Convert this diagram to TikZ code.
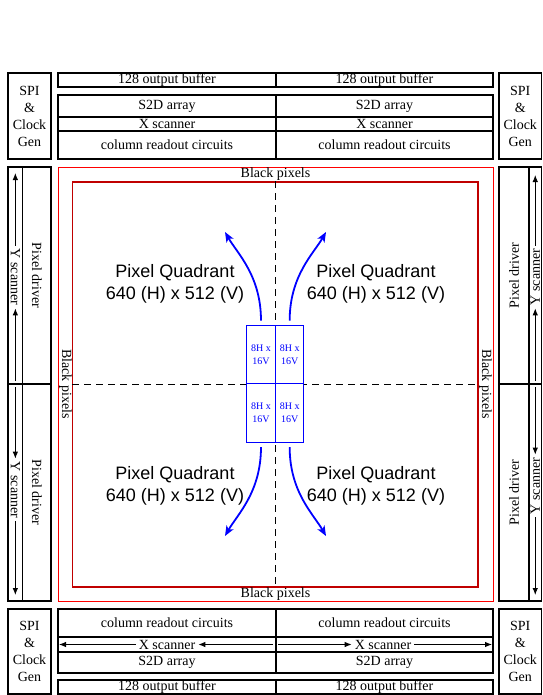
\documentclass[tikz,border=0pt]{standalone}
\usepackage{fontspec}
\setmainfont{Liberation Serif}
\newfontfamily\quadfont{Liberation Sans}
\usepackage{tikz}
\usetikzlibrary{positioning,arrows.meta,calc}
\definecolor{PixRed}{HTML}{FF0000}
\definecolor{EdgeRed}{HTML}{C00000}
\definecolor{CellBlue}{HTML}{0000FF}

\begin{document}
\begin{tikzpicture}[x=1pt,y=-1pt,
    blk/.style={draw, line width=1.1pt, inner sep=0pt, outer sep=0pt, font=\fontsize{14}{16}\selectfont},
    txt/.style={inner sep=3pt, font=\fontsize{14}{16}\selectfont},
    spi/.style={blk, minimum height=86pt, align=center, font=\fontsize{14}{17}\selectfont},
    scan/.style={-{Latex[length=7pt,width=5.5pt]}, line width=0.9pt},
    cell/.style={draw=CellBlue, fill=white, line width=1pt, text=CellBlue, minimum width=28.65pt,
      minimum height=58.15pt, inner sep=0pt, outer sep=0pt, align=center, font=\fontsize{10}{12.5}\selectfont},
    quad/.style={align=center, font=\quadfont\fontsize{18}{22}\selectfont},
    flow/.style={draw=CellBlue, line width=1.8pt, -{Stealth[length=10pt,width=8pt,inset=2.5pt]}}
  ]
  \useasboundingbox (0,0) rectangle (542,695);

  % top periphery
  \node[spi, minimum width=43pt] (spiTL) at (29.5,116) {SPI\\\&\\Clock\\Gen};
  \node[spi, minimum width=42.5pt] (spiTR) at (520.25,116) {SPI\\\&\\Clock\\Gen};
  \node[blk, minimum width=218pt, minimum height=14pt] (bufTL) at (167,80) {128 output buffer};
  \node[blk, minimum width=217pt, minimum height=14pt, right=0pt of bufTL] (bufTR) {128 output buffer};
  \node[blk, minimum width=218pt, minimum height=22pt] (s2dTL) at (167,106) {S2D array};
  \node[blk, minimum width=218pt, minimum height=14pt, below=0pt of s2dTL] (xscTL) {X scanner};
  \node[blk, minimum width=218pt, minimum height=28pt, below=0pt of xscTL] (colTL) {column readout circuits};
  \node[blk, minimum width=217pt, minimum height=22pt, right=0pt of s2dTL] (s2dTR) {S2D array};
  \node[blk, minimum width=217pt, minimum height=14pt, right=0pt of xscTL] (xscTR) {X scanner};
  \node[blk, minimum width=217pt, minimum height=28pt, right=0pt of colTL] (colTR) {column readout circuits};

  % bottom periphery
  \node[spi, minimum width=43pt, minimum height=85pt] (spiBL) at (29.5,651.5) {SPI\\\&\\Clock\\Gen};
  \node[spi, minimum width=42.5pt, minimum height=85pt] (spiBR) at (520.25,651.5) {SPI\\\&\\Clock\\Gen};
  \node[blk, minimum width=218pt, minimum height=28pt] (colBL) at (167,623) {column readout circuits};
  \node[blk, minimum width=218pt, minimum height=15pt, below=0pt of colBL] (xscBL) {};
  \node[blk, minimum width=218pt, minimum height=21pt, below=0pt of xscBL] (s2dBL) {S2D array};
  \node[blk, minimum width=217pt, minimum height=28pt, right=0pt of colBL] (colBR) {column readout circuits};
  \node[blk, minimum width=217pt, minimum height=15pt, right=0pt of xscBL] (xscBR) {};
  \node[blk, minimum width=217pt, minimum height=21pt, right=0pt of s2dBL] (s2dBR) {S2D array};
  \node[blk, minimum width=218pt, minimum height=14pt] (bufBL) at (167,687) {128 output buffer};
  \node[blk, minimum width=217pt, minimum height=14pt, right=0pt of bufBL] (bufBR) {128 output buffer};
  \node[txt] (xlbBL) at (167,644.5) {X scanner};
  \node[txt] (xlbBR) at (383,644.5) {X scanner};
  \coordinate (xBLl) at (59,644.5);
  \coordinate (xBLr) at (273,644.5);
  \coordinate (xBRl) at (278,644.5);
  \coordinate (xBRr) at (492,644.5);
  \draw[scan] (xBLr) -- (xlbBL.east);
  \draw[scan] (xlbBL.west) -- (xBLl);
  \draw[scan] (xBRl) -- (xlbBR.west);
  \draw[scan] (xlbBR.east) -- (xBRr);

  % left column
  \node[blk, rotate=-90, minimum width=217pt, minimum height=28.3pt] (drvTL) at (36.85,275.5) {Pixel driver};
  \node[blk, rotate=-90, minimum width=217pt, minimum height=28.3pt] (drvBL) at (36.85,492.5) {Pixel driver};
  \node[blk, minimum width=14.7pt, minimum height=217pt] (yscTL) at (15.35,275.5) {};
  \node[blk, minimum width=14.7pt, minimum height=217pt] (yscBL) at (15.35,492.5) {};
  \node[txt, rotate=-90] (ylbTL) at (15.35,277) {Y scanner};
  \node[txt, rotate=-90] (ylbBL) at (15.35,490) {Y scanner};
  \coordinate (yTLtop) at (15.35,173);
  \coordinate (yTLbot) at (15.35,381);
  \coordinate (yBLtop) at (15.35,387);
  \coordinate (yBLbot) at (15.35,595);
  \draw[scan] (yTLbot) -- (ylbTL.east);
  \draw[scan] (ylbTL.west) -- (yTLtop);
  \draw[scan] (yBLtop) -- (ylbBL.west);
  \draw[scan] (ylbBL.east) -- (yBLbot);

  % right column
  \node[blk, rotate=90, minimum width=217pt, minimum height=30pt] (drvTR) at (514,275.5) {Pixel driver};
  \node[blk, rotate=90, minimum width=217pt, minimum height=30pt] (drvBR) at (514,492.5) {Pixel driver};
  \node[blk, minimum width=12.5pt, minimum height=217pt] (yscTR) at (535.25,275.5) {};
  \node[blk, minimum width=12.5pt, minimum height=217pt] (yscBR) at (535.25,492.5) {};
  \node[txt, rotate=90] (ylbTR) at (535.25,277) {Y scanner};
  \node[txt, rotate=90] (ylbBR) at (535.25,486) {Y scanner};
  \coordinate (yTRtop) at (535.25,175);
  \coordinate (yTRbot) at (535.25,381);
  \coordinate (yBRtop) at (535.25,387);
  \coordinate (yBRbot) at (535.25,595);
  \draw[scan] (yTRbot) -- (ylbTR.west);
  \draw[scan] (ylbTR.east) -- (yTRtop);
  \draw[scan] (yBRtop) -- (ylbBR.east);
  \draw[scan] (ylbBR.west) -- (yBRbot);

  % pixel array with black pixel border
  \node[draw=PixRed, line width=0.9pt, inner sep=0pt, minimum width=435pt, minimum height=434pt] (blackOut) at (275.5,384) {};
  \node[draw=EdgeRed, line width=1.1pt, inner sep=0pt, minimum width=405.3pt, minimum height=405pt] (active) at (275.35,384.5) {};
  \node[txt, inner sep=0pt] (bpT) at (275.5,174.5) {Black pixels};
  \node[txt, inner sep=0pt] (bpB) at (275.5,594) {Black pixels};
  \node[txt, inner sep=0pt, rotate=-90] (bpL) at (65.4,384) {Black pixels};
  \node[txt, inner sep=0pt, rotate=-90] (bpR) at (485.5,384) {Black pixels};
  \draw[line width=1.1pt, dash pattern=on 7pt off 5pt] (active.north) -- (active.south);
  \draw[line width=1.1pt, dash pattern=on 7pt off 5pt] (active.west) -- (active.east);

  % quadrants
  \node[quad] (quadTL) at (175,284) {Pixel Quadrant\\640 (H) x 512 (V)};
  \node[quad] (quadTR) at (376,284) {Pixel Quadrant\\640 (H) x 512 (V)};
  \node[quad] (quadBL) at (175,486) {Pixel Quadrant\\640 (H) x 512 (V)};
  \node[quad] (quadBR) at (376,486) {Pixel Quadrant\\640 (H) x 512 (V)};

  % readout cells in the middle
  \node[cell] (cellTL) at (261.0,354.8) {8H x\\16V};
  \node[cell, right=0pt of cellTL] (cellTR) {8H x\\16V};
  \node[cell, below=0pt of cellTL] (cellBL) {8H x\\16V};
  \node[cell, right=0pt of cellBL] (cellBR) {8H x\\16V};

  \coordinate (tipTL) at (225,232);
  \coordinate (tipTR) at (326,232);
  \coordinate (tipBL) at (225,536);
  \coordinate (tipBR) at (326,536);
  \draw[flow] ($(cellTL.north)+(0,-5)$) .. controls +(0,-45) and +(12.5,21.7) .. (tipTL);
  \draw[flow] ($(cellTR.north)+(0,-5)$) .. controls +(0,-45) and +(-12.5,21.7) .. (tipTR);
  \draw[flow] ($(cellBL.south)+(0,5)$) .. controls +(0,45) and +(12.5,-21.7) .. (tipBL);
  \draw[flow] ($(cellBR.south)+(0,5)$) .. controls +(0,45) and +(-12.5,-21.7) .. (tipBR);
\end{tikzpicture}
\end{document}
